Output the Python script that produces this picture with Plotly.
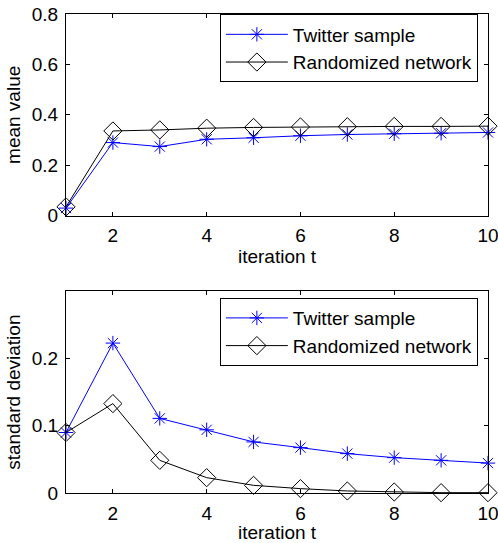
import plotly.graph_objects as go

iterations = [1, 2, 3, 4, 5, 6, 7, 8, 9, 10]
mean_twitter = [0.03, 0.29, 0.274, 0.303, 0.309, 0.317, 0.322, 0.325, 0.327, 0.33]
mean_random = [0.035, 0.336, 0.340, 0.347, 0.350, 0.352, 0.353, 0.354, 0.354, 0.355]
std_twitter = [0.09, 0.223, 0.111, 0.094, 0.076, 0.0675, 0.0586, 0.0526, 0.0486, 0.0445]
std_random = [0.09, 0.133, 0.0486, 0.0228, 0.0114, 0.0065, 0.003, 0.0015, 0.0005, 0.0005]
x_ticks = [2, 4, 6, 8, 10]
mean_ticks = [0, 0.2, 0.4, 0.6, 0.8]
mean_labels = ["0", "0.2", "0.4", "0.6", "0.8"]
std_ticks = [0, 0.1, 0.2]
std_labels = ["0", "0.1", "0.2"]
names = ["Twitter sample", "Randomized network"]

FONT = "Liberation Sans, Arial, Helvetica, sans-serif"
FS = 19

fig = go.Figure()

def add(y, name, color, symbol, size, xa, ya, legend, show):
    fig.add_trace(go.Scatter(
        x=iterations, y=y, name=name, mode="lines+markers",
        line=dict(color=color, width=1),
        marker=dict(symbol=symbol, size=size, color=color,
                    line=dict(color=color, width=1)),
        xaxis=xa, yaxis=ya, legend=legend, cliponaxis=False, showlegend=show))

add(mean_twitter, names[0], "#0000ff", "asterisk-open", 12, "x", "y", "legend", True)
add(mean_random, names[1], "#000000", "diamond-open", 14, "x", "y", "legend", True)
add(std_twitter, names[0], "#0000ff", "asterisk-open", 12, "x2", "y2", "legend2", True)
add(std_random, names[1], "#000000", "diamond-open", 14, "x2", "y2", "legend2", True)

axis_common = dict(showline=True, linecolor="black", linewidth=1, mirror="ticks",
                   ticks="inside", ticklen=4, tickcolor="black", showgrid=False,
                   zeroline=False, automargin=False, ticklabeloverflow="allow",
                   tickfont=dict(family=FONT, size=FS, color="black"))

fig.update_layout(
    width=498, height=543,
    margin=dict(l=66, r=10, t=14, b=50),
    paper_bgcolor="white", plot_bgcolor="white",
    font=dict(family=FONT, size=FS, color="black"),
    xaxis=dict(domain=[0, 1], range=[1, 10], tickvals=x_ticks, anchor="y",
               title=dict(text="iteration t", standoff=2, font=dict(size=FS)),
               ticklabelstandoff=3, **axis_common),
    yaxis=dict(domain=[0.579, 1], range=[0, 0.8], tickvals=mean_ticks, ticktext=mean_labels,
               anchor="x", title=dict(text="mean value", standoff=6, font=dict(size=FS)),
               ticklabelstandoff=3, **axis_common),
    xaxis2=dict(domain=[0, 1], range=[1, 10], tickvals=x_ticks, anchor="y2",
                title=dict(text="iteration t", standoff=2, font=dict(size=FS)),
                ticklabelstandoff=3, **axis_common),
    yaxis2=dict(domain=[0, 0.421], range=[0, 0.3], tickvals=std_ticks, ticktext=std_labels,
                anchor="x2", title=dict(text="standard deviation", standoff=6, font=dict(size=FS)),
                ticklabelstandoff=3, **axis_common),
    legend=dict(x=0.976, y=0.999, xanchor="right", yanchor="top",
                bgcolor="white", bordercolor="black", borderwidth=1,
                font=dict(family=FONT, size=FS, color="black"), tracegroupgap=0,
                itemwidth=62),
    legend2=dict(x=0.976, y=0.407, xanchor="right", yanchor="top",
                 bgcolor="white", bordercolor="black", borderwidth=1,
                 font=dict(family=FONT, size=FS, color="black"), tracegroupgap=0,
                 itemwidth=62),
)

fig.write_html("out.html")
